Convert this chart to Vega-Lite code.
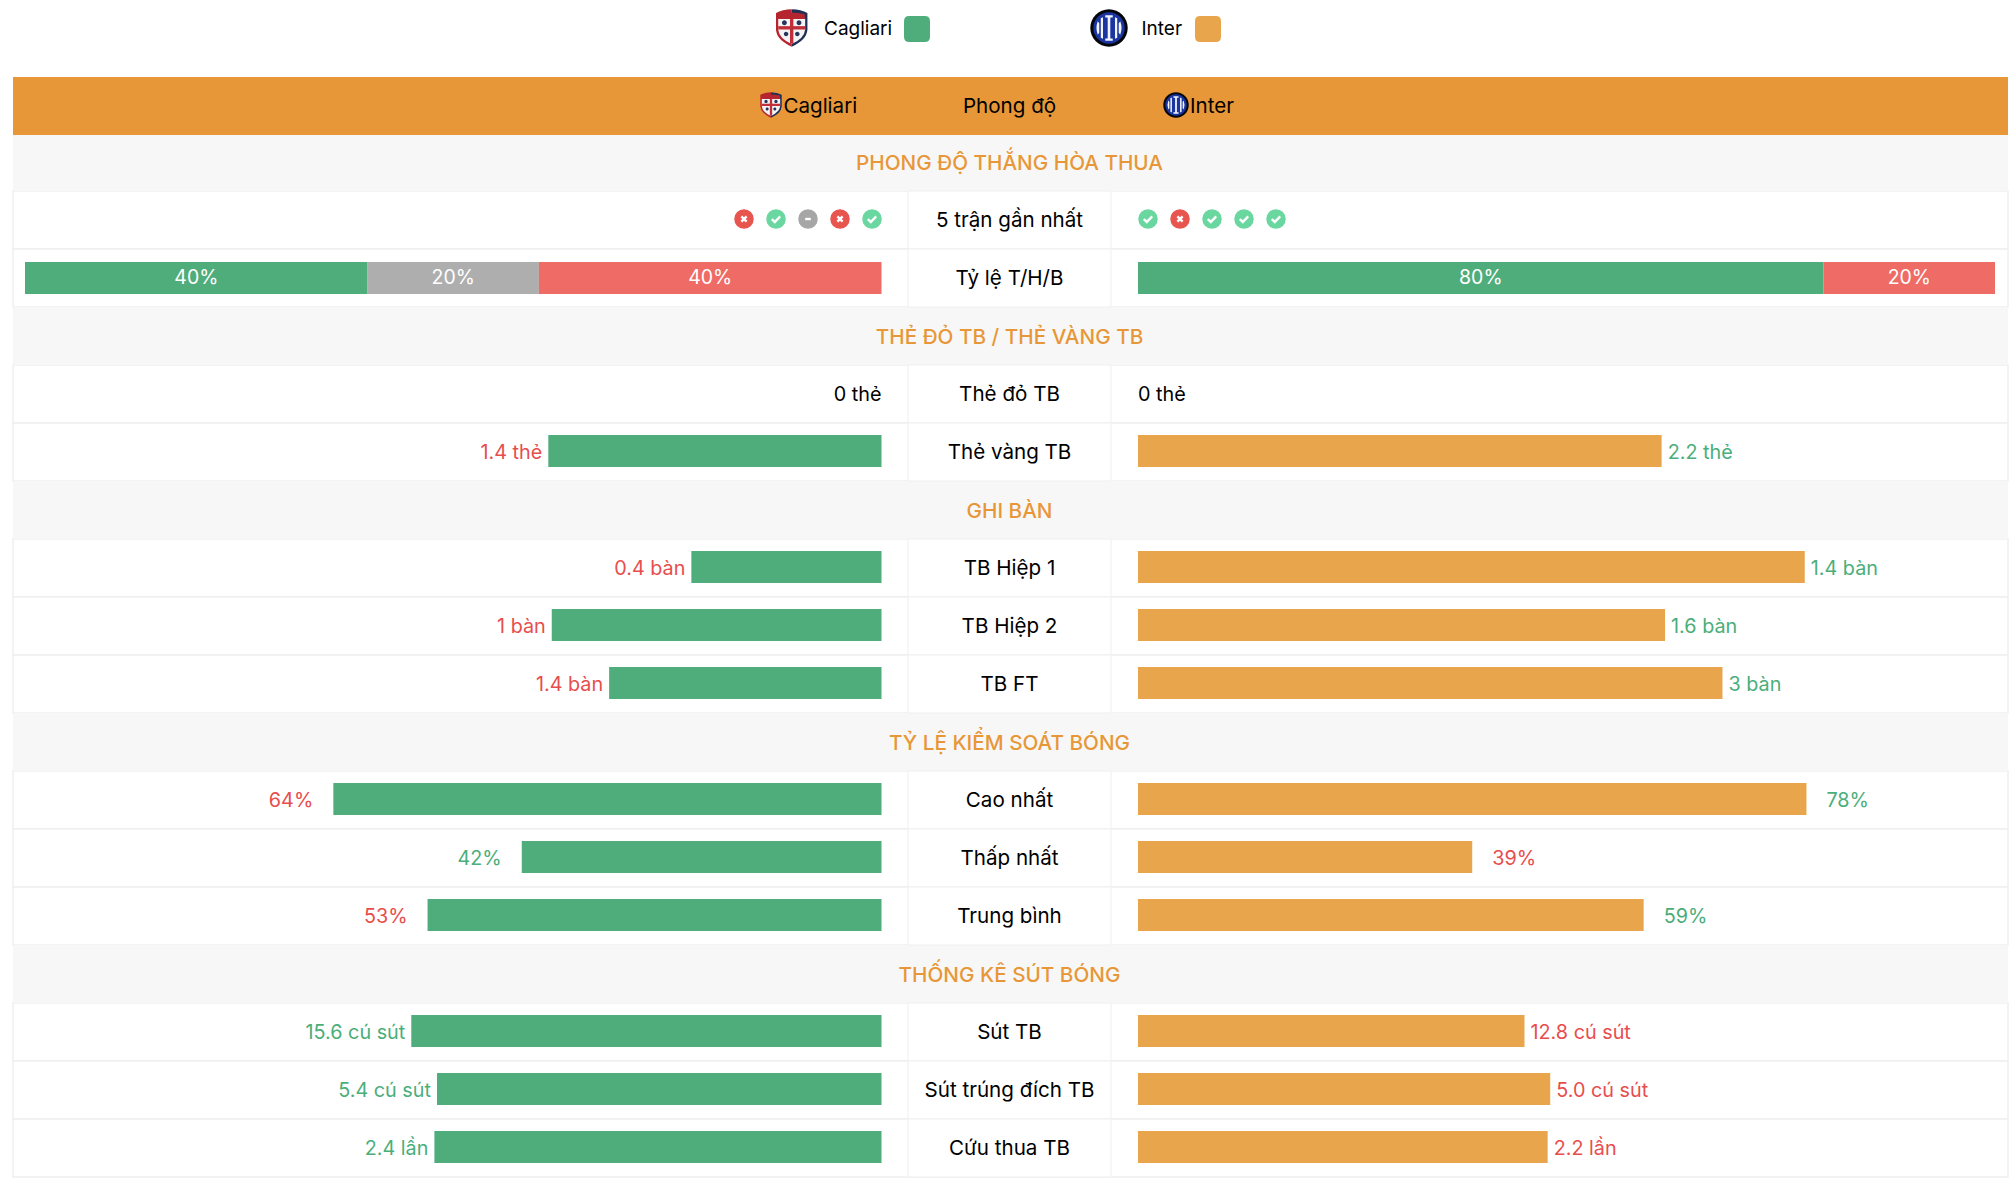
{
"$schema":"https://vega.github.io/schema/vega-lite/v6.json",
"autosize":{"type":"none"},
"padding":{"left":13,"top":0,"right":6,"bottom":4},
"width":1995,"height":1178,
"background":"white",
"config":{"view":{"stroke":null},"text":{"font":"Inter","fontSize":20,"limit":0}},
"datasets":{
"rows":[
{"row":"Phong độ","type":"header"},
{"row":"PHONG ĐỘ THẮNG HÒA THUA","type":"section"},
{"row":"5 trận gần nhất","type":"metric"},
{"row":"Tỷ lệ T/H/B","type":"metric"},
{"row":"THẺ ĐỎ TB / THẺ VÀNG TB","type":"section"},
{"row":"Thẻ đỏ TB","type":"metric"},
{"row":"Thẻ vàng TB","type":"metric"},
{"row":"GHI BÀN","type":"section"},
{"row":"TB Hiệp 1","type":"metric"},
{"row":"TB Hiệp 2","type":"metric"},
{"row":"TB FT","type":"metric"},
{"row":"TỶ LỆ KIỂM SOÁT BÓNG","type":"section"},
{"row":"Cao nhất","type":"metric"},
{"row":"Thấp nhất","type":"metric"},
{"row":"Trung bình","type":"metric"},
{"row":"THỐNG KÊ SÚT BÓNG","type":"section"},
{"row":"Sút TB","type":"metric"},
{"row":"Sút trúng đích TB","type":"metric"},
{"row":"Cứu thua TB","type":"metric"}
],
"teams":[
{"row":"legend","team":"Cagliari"},{"row":"legend","team":"Inter"},
{"row":"Phong độ","team":"Cagliari"},{"row":"Phong độ","team":"Inter"}
],
"logos":[
{"team":"Cagliari","part":"red"},{"team":"Cagliari","part":"navy"},{"team":"Cagliari","part":"white"},{"team":"Cagliari","part":"band"},{"team":"Cagliari","part":"crossV"},{"team":"Cagliari","part":"crossH"},{"team":"Cagliari","part":"dots"},
{"team":"Inter","part":"ring"},{"team":"Inter","part":"disc"},{"team":"Inter","part":"glyph"}
],
"bars":[
{"row":"Thẻ đỏ TB","team":"Cagliari","label":"0 thẻ","value":0,"pct":0,"cmp":"none"},
{"row":"Thẻ đỏ TB","team":"Inter","label":"0 thẻ","value":0,"pct":0,"cmp":"none"},
{"row":"Thẻ vàng TB","team":"Cagliari","label":"1.4 thẻ","value":1.4,"pct":38.9,"cmp":"lower"},
{"row":"Thẻ vàng TB","team":"Inter","label":"2.2 thẻ","value":2.2,"pct":61.1,"cmp":"higher"},
{"row":"TB Hiệp 1","team":"Cagliari","label":"0.4 bàn","value":0.4,"pct":22.2,"cmp":"lower"},
{"row":"TB Hiệp 1","team":"Inter","label":"1.4 bàn","value":1.4,"pct":77.8,"cmp":"higher"},
{"row":"TB Hiệp 2","team":"Cagliari","label":"1 bàn","value":1,"pct":38.5,"cmp":"lower"},
{"row":"TB Hiệp 2","team":"Inter","label":"1.6 bàn","value":1.6,"pct":61.5,"cmp":"higher"},
{"row":"TB FT","team":"Cagliari","label":"1.4 bàn","value":1.4,"pct":31.8,"cmp":"lower"},
{"row":"TB FT","team":"Inter","label":"3 bàn","value":3,"pct":68.2,"cmp":"higher"},
{"row":"Cao nhất","team":"Cagliari","label":"64%","value":64,"pct":64,"cmp":"lower"},
{"row":"Cao nhất","team":"Inter","label":"78%","value":78,"pct":78,"cmp":"higher"},
{"row":"Thấp nhất","team":"Cagliari","label":"42%","value":42,"pct":42,"cmp":"higher"},
{"row":"Thấp nhất","team":"Inter","label":"39%","value":39,"pct":39,"cmp":"lower"},
{"row":"Trung bình","team":"Cagliari","label":"53%","value":53,"pct":53,"cmp":"lower"},
{"row":"Trung bình","team":"Inter","label":"59%","value":59,"pct":59,"cmp":"higher"},
{"row":"Sút TB","team":"Cagliari","label":"15.6 cú sút","value":15.6,"pct":54.9,"cmp":"higher"},
{"row":"Sút TB","team":"Inter","label":"12.8 cú sút","value":12.8,"pct":45.1,"cmp":"lower"},
{"row":"Sút trúng đích TB","team":"Cagliari","label":"5.4 cú sút","value":5.4,"pct":51.9,"cmp":"higher"},
{"row":"Sút trúng đích TB","team":"Inter","label":"5.0 cú sút","value":5,"pct":48.1,"cmp":"lower"},
{"row":"Cứu thua TB","team":"Cagliari","label":"2.4 lần","value":2.4,"pct":52.2,"cmp":"higher"},
{"row":"Cứu thua TB","team":"Inter","label":"2.2 lần","value":2.2,"pct":47.8,"cmp":"lower"}
],
"rate":[
{"row":"Tỷ lệ T/H/B","team":"Cagliari","result":"T","seq":1,"pct":40,"label":"40%"},
{"row":"Tỷ lệ T/H/B","team":"Cagliari","result":"H","seq":2,"pct":20,"label":"20%"},
{"row":"Tỷ lệ T/H/B","team":"Cagliari","result":"B","seq":3,"pct":40,"label":"40%"},
{"row":"Tỷ lệ T/H/B","team":"Inter","result":"T","seq":1,"pct":80,"label":"80%"},
{"row":"Tỷ lệ T/H/B","team":"Inter","result":"B","seq":3,"pct":20,"label":"20%"}
],
"form":[
{"row":"5 trận gần nhất","team":"Cagliari","match":1,"result":"B"},
{"row":"5 trận gần nhất","team":"Cagliari","match":2,"result":"T"},
{"row":"5 trận gần nhất","team":"Cagliari","match":3,"result":"H"},
{"row":"5 trận gần nhất","team":"Cagliari","match":4,"result":"B"},
{"row":"5 trận gần nhất","team":"Cagliari","match":5,"result":"T"},
{"row":"5 trận gần nhất","team":"Inter","match":1,"result":"T"},
{"row":"5 trận gần nhất","team":"Inter","match":2,"result":"B"},
{"row":"5 trận gần nhất","team":"Inter","match":3,"result":"T"},
{"row":"5 trận gần nhất","team":"Inter","match":4,"result":"T"},
{"row":"5 trận gần nhất","team":"Inter","match":5,"result":"T"}
]
},
"encoding":{"y":{"field":"row","type":"nominal","axis":null,"scale":{"type":"band","paddingInner":0,"paddingOuter":0,"range":[17,1177],"domain":["legend","Phong độ","PHONG ĐỘ THẮNG HÒA THUA","5 trận gần nhất","Tỷ lệ T/H/B","THẺ ĐỎ TB / THẺ VÀNG TB","Thẻ đỏ TB","Thẻ vàng TB","GHI BÀN","TB Hiệp 1","TB Hiệp 2","TB FT","TỶ LỆ KIỂM SOÁT BÓNG","Cao nhất","Thấp nhất","Trung bình","THỐNG KÊ SÚT BÓNG","Sút TB","Sút trúng đích TB","Cứu thua TB"]}}},
"resolve":{"scale":{"x":"independent","color":"independent","shape":"independent"}},
"layer":[
{"data":{"name":"rows"},"transform":[{"filter":"datum.type==='metric'"}],"mark":{"type":"rect","fill":"white","stroke":"#efefef","strokeWidth":1.5}},
{"data":{"name":"rows"},"transform":[{"filter":"datum.type==='section'"}],"mark":{"type":"rect","fill":"#f7f7f7"}},
{"data":{"name":"rows"},"transform":[{"filter":"datum.type==='header'"}],"mark":{"type":"rect","fill":"#e79737","yOffset":2,"y2Offset":1}},
{"data":{"name":"rows"},"transform":[{"filter":"datum.type==='metric'"}],"mark":{"type":"rect","fill":"white","stroke":"#efefef","strokeWidth":1},"encoding":{"x":{"datum":0,"type":"quantitative","axis":null,"scale":{"domain":[0,1],"range":[895,1098]}},"x2":{"datum":1}}},
{"data":{"name":"rows"},"transform":[{"filter":"datum.type==='metric'"}],"mark":{"type":"text","color":"#000000","fontSize":20.6,"yOffset":1},"encoding":{"text":{"field":"row"},"x":{"datum":0.5,"type":"quantitative","axis":null,"scale":{"domain":[0,1],"range":[895,1098]}}}},
{"data":{"name":"rows"},"transform":[{"filter":"datum.type==='header'"}],"mark":{"type":"text","color":"#000000","fontSize":20.6,"yOffset":3},"encoding":{"text":{"field":"row"},"x":{"datum":0.5,"type":"quantitative","axis":null,"scale":{"domain":[0,1],"range":[895,1098]}}}},
{"data":{"name":"rows"},"transform":[{"filter":"datum.type==='section'"}],"mark":{"type":"text","color":"#e79737","fontSize":20.7,"fontWeight":500,"yOffset":2},"encoding":{"text":{"field":"row"},"x":{"datum":0.5,"type":"quantitative","axis":null,"scale":{"domain":[0,1],"range":[895,1098]}}}},

{"data":{"name":"teams"},"transform":[{"filter":"datum.row==='legend'"}],"mark":{"type":"text","align":"left","yOffset":-17,"fontSize":19,"color":"#000000"},"encoding":{"text":{"field":"team"},"x":{"field":"team","type":"nominal","axis":null,"scale":{"type":"point","padding":0,"domain":["Cagliari","Inter"],"range":[811,1128.5]}}}},
{"data":{"name":"teams"},"transform":[{"filter":"datum.row==='Phong độ'"}],"mark":{"type":"text","align":"left","fontSize":20.6,"color":"#000000","yOffset":3},"encoding":{"text":{"field":"team"},"x":{"field":"team","type":"nominal","axis":null,"scale":{"type":"point","padding":0,"domain":["Cagliari","Inter"],"range":[770.4,1177]}}}},
{"data":{"name":"teams"},"transform":[{"filter":"datum.row==='legend'"}],"mark":{"type":"point","filled":true,"opacity":1,"size":676,"yOffset":-17,"shape":"M-0.6,-1H0.6Q1,-1 1,-0.6V0.6Q1,1 0.6,1H-0.6Q-1,1 -1,0.6V-0.6Q-1,-1 -0.6,-1Z"},"encoding":{"x":{"field":"team","type":"nominal","axis":null,"scale":{"type":"point","padding":0,"domain":["Cagliari","Inter"],"range":[904,1195]}},"color":{"field":"team","type":"nominal","legend":null,"scale":{"domain":["Cagliari","Inter"],"range":["#4fad7b","#e8a54b"]}}}},

{"data":{"name":"logos"},"transform":[{"calculate":"'legend'","as":"row"}],"mark":{"type":"point","filled":true,"opacity":1,"size":1400,"yOffset":-18},"encoding":{
"x":{"field":"team","type":"nominal","axis":null,"scale":{"type":"point","padding":0,"domain":["Cagliari","Inter"],"range":[778.7,1096]}},
"shape":{"field":"part","type":"nominal","legend":null,"scale":{"domain":["red","navy","white","band","crossV","crossH","dots","ring","disc","glyph"],"range":[
"M0,-1Q-0.5,-0.98 -0.84,-0.8V0.1Q-0.8,0.65 0,1Z",
"M0,-1Q0.5,-0.98 0.84,-0.8V0.1Q0.8,0.65 0,1Z",
"M-0.72,-0.5H0.72V0.08Q0.68,0.55 0,0.86Q-0.68,0.55 -0.72,0.08Z",
"M-0.7,-0.74Q0,-0.92 0.7,-0.74V-0.48H-0.7Z",
"M-0.09,-0.48H0.09V0.84H-0.09Z",
"M-0.72,-0.1H0.72V0.08H-0.72Z",
"M-0.52,-0.28a0.13,0.13 0 1,0 0.26,0a0.13,0.13 0 1,0 -0.26,0M0.26,-0.28a0.13,0.13 0 1,0 0.26,0a0.13,0.13 0 1,0 -0.26,0M-0.42,0.32a0.12,0.12 0 1,0 0.24,0a0.12,0.12 0 1,0 -0.24,0M0.18,0.32a0.12,0.12 0 1,0 0.24,0a0.12,0.12 0 1,0 -0.24,0",
"M-1,0a1,1 0 1,0 2,0a1,1 0 1,0 -2,0Z",
"M-0.84,0a0.84,0.84 0 1,0 1.68,0a0.84,0.84 0 1,0 -1.68,0Z",
"M-0.2,-0.68H0.2V-0.56H0.07V0.56H0.2V0.68H-0.2V0.56H-0.07V-0.56H-0.2ZM-0.44,-0.52L-0.32,-0.58V0.58L-0.44,0.52ZM0.32,-0.58L0.44,-0.52V0.52L0.32,0.58ZM-0.6,-0.36Q-0.74,0 -0.6,0.36L-0.52,0.26V-0.26ZM0.6,-0.36Q0.74,0 0.6,0.36L0.52,0.26V-0.26Z"
]}},
"color":{"field":"part","type":"nominal","legend":null,"scale":{"domain":["red","navy","white","band","crossV","crossH","dots","ring","disc","glyph"],"range":["#b5252f","#1f2f55","#f4f4f4","#b5252f","#c0303a","#c0303a","#26365c","#05060a","#1a34a0","#f2f4fa"]}}}},
{"data":{"name":"logos"},"transform":[{"calculate":"'Phong độ'","as":"row"}],"mark":{"type":"point","filled":true,"opacity":1,"size":650,"yOffset":1},"encoding":{
"x":{"field":"team","type":"nominal","axis":null,"scale":{"type":"point","padding":0,"domain":["Cagliari","Inter"],"range":[758,1163]}},
"shape":{"field":"part","type":"nominal","legend":null,"scale":{"domain":["red","navy","white","band","crossV","crossH","dots","ring","disc","glyph"],"range":[
"M0,-1Q-0.5,-0.98 -0.84,-0.8V0.1Q-0.8,0.65 0,1Z",
"M0,-1Q0.5,-0.98 0.84,-0.8V0.1Q0.8,0.65 0,1Z",
"M-0.72,-0.5H0.72V0.08Q0.68,0.55 0,0.86Q-0.68,0.55 -0.72,0.08Z",
"M-0.7,-0.74Q0,-0.92 0.7,-0.74V-0.48H-0.7Z",
"M-0.09,-0.48H0.09V0.84H-0.09Z",
"M-0.72,-0.1H0.72V0.08H-0.72Z",
"M-0.52,-0.28a0.13,0.13 0 1,0 0.26,0a0.13,0.13 0 1,0 -0.26,0M0.26,-0.28a0.13,0.13 0 1,0 0.26,0a0.13,0.13 0 1,0 -0.26,0M-0.42,0.32a0.12,0.12 0 1,0 0.24,0a0.12,0.12 0 1,0 -0.24,0M0.18,0.32a0.12,0.12 0 1,0 0.24,0a0.12,0.12 0 1,0 -0.24,0",
"M-1,0a1,1 0 1,0 2,0a1,1 0 1,0 -2,0Z",
"M-0.84,0a0.84,0.84 0 1,0 1.68,0a0.84,0.84 0 1,0 -1.68,0Z",
"M-0.2,-0.68H0.2V-0.56H0.07V0.56H0.2V0.68H-0.2V0.56H-0.07V-0.56H-0.2ZM-0.44,-0.52L-0.32,-0.58V0.58L-0.44,0.52ZM0.32,-0.58L0.44,-0.52V0.52L0.32,0.58ZM-0.6,-0.36Q-0.74,0 -0.6,0.36L-0.52,0.26V-0.26ZM0.6,-0.36Q0.74,0 0.6,0.36L0.52,0.26V-0.26Z"
]}},
"color":{"field":"part","type":"nominal","legend":null,"scale":{"domain":["red","navy","white","band","crossV","crossH","dots","ring","disc","glyph"],"range":["#b5252f","#1f2f55","#f4f4f4","#b5252f","#c0303a","#c0303a","#26365c","#05060a","#1a34a0","#f2f4fa"]}}}},

{"data":{"name":"form"},"transform":[{"filter":"datum.team==='Cagliari'"}],"mark":{"type":"point","filled":true,"opacity":1,"shape":"circle","size":380,"yOffset":-1},"encoding":{"x":{"field":"match","type":"quantitative","axis":null,"scale":{"domain":[1,5],"range":[731,859]}},"color":{"field":"result","type":"nominal","legend":null,"scale":{"domain":["T","H","B"],"range":["#69d79f","#a6a6a6","#e8554f"]}}}},
{"data":{"name":"form"},"transform":[{"filter":"datum.team==='Cagliari'"}],"mark":{"type":"point","filled":false,"opacity":1,"size":400,"stroke":"white","strokeWidth":2.4,"yOffset":-1},"encoding":{"x":{"field":"match","type":"quantitative","axis":null,"scale":{"domain":[1,5],"range":[731,859]}},"shape":{"field":"result","type":"nominal","legend":null,"scale":{"domain":["T","H","B"],"range":["M-0.42,0.02L-0.12,0.3L0.42,-0.26","M-0.28,0L0.28,0","M-0.26,-0.26L0.26,0.26M0.26,-0.26L-0.26,0.26"]}}}},
{"data":{"name":"form"},"transform":[{"filter":"datum.team==='Inter'"}],"mark":{"type":"point","filled":true,"opacity":1,"shape":"circle","size":380,"yOffset":-1},"encoding":{"x":{"field":"match","type":"quantitative","axis":null,"scale":{"domain":[1,5],"range":[1135,1263]}},"color":{"field":"result","type":"nominal","legend":null,"scale":{"domain":["T","H","B"],"range":["#69d79f","#a6a6a6","#e8554f"]}}}},
{"data":{"name":"form"},"transform":[{"filter":"datum.team==='Inter'"}],"mark":{"type":"point","filled":false,"opacity":1,"size":400,"stroke":"white","strokeWidth":2.4,"yOffset":-1},"encoding":{"x":{"field":"match","type":"quantitative","axis":null,"scale":{"domain":[1,5],"range":[1135,1263]}},"shape":{"field":"result","type":"nominal","legend":null,"scale":{"domain":["T","H","B"],"range":["M-0.42,0.02L-0.12,0.3L0.42,-0.26","M-0.28,0L0.28,0","M-0.26,-0.26L0.26,0.26M0.26,-0.26L-0.26,0.26"]}}}},

{"data":{"name":"rate"},"transform":[{"filter":"datum.team==='Cagliari'"}],"mark":{"type":"bar","height":32},"encoding":{"x":{"field":"pct","type":"quantitative","axis":null,"stack":"zero","scale":{"domain":[0,100],"range":[12,868.5]}},"order":{"field":"seq"},"color":{"field":"result","type":"nominal","legend":null,"scale":{"domain":["T","H","B"],"range":["#4fad7b","#aeaeae","#ef6b66"]}}}},
{"data":{"name":"rate"},"transform":[{"filter":"datum.team==='Cagliari'"}],"mark":{"type":"text","color":"white","fontSize":19.5},"encoding":{"x":{"field":"pct","type":"quantitative","axis":null,"stack":"zero","bandPosition":0.5,"scale":{"domain":[0,100],"range":[12,868.5]}},"order":{"field":"seq"},"detail":{"field":"result"},"text":{"field":"label"}}},
{"data":{"name":"rate"},"transform":[{"filter":"datum.team==='Inter'"}],"mark":{"type":"bar","height":32},"encoding":{"x":{"field":"pct","type":"quantitative","axis":null,"stack":"zero","scale":{"domain":[0,100],"range":[1125,1982]}},"order":{"field":"seq"},"color":{"field":"result","type":"nominal","legend":null,"scale":{"domain":["T","H","B"],"range":["#4fad7b","#aeaeae","#ef6b66"]}}}},
{"data":{"name":"rate"},"transform":[{"filter":"datum.team==='Inter'"}],"mark":{"type":"text","color":"white","fontSize":19.5},"encoding":{"x":{"field":"pct","type":"quantitative","axis":null,"stack":"zero","bandPosition":0.5,"scale":{"domain":[0,100],"range":[1125,1982]}},"order":{"field":"seq"},"detail":{"field":"result"},"text":{"field":"label"}}},

{"data":{"name":"bars"},"transform":[{"filter":"datum.team==='Cagliari' && datum.pct>0"}],"mark":{"type":"bar","height":32,"color":"#4fad7b","yOffset":-1},"encoding":{"x":{"field":"pct","type":"quantitative","axis":null,"scale":{"domain":[0,100],"range":[868.5,12]}}}},
{"data":{"name":"bars"},"transform":[{"filter":"datum.team==='Inter' && datum.pct>0"}],"mark":{"type":"bar","height":32,"color":"#e8a54b","yOffset":-1},"encoding":{"x":{"field":"pct","type":"quantitative","axis":null,"scale":{"domain":[0,100],"range":[1125,1982]}}}},

{"data":{"name":"bars"},"transform":[{"filter":"datum.team==='Cagliari' && datum.pct===0"}],"mark":{"type":"text","align":"right","fontSize":19.8,"yOffset":1},"encoding":{"text":{"field":"label"},"x":{"field":"pct","type":"quantitative","axis":null,"scale":{"domain":[0,100],"range":[868.5,12]}},"color":{"field":"cmp","type":"nominal","legend":null,"scale":{"domain":["higher","lower","none"],"range":["#4aae7a","#e84d4d","#000000"]}}}},
{"data":{"name":"bars"},"transform":[{"filter":"datum.team==='Cagliari' && datum.pct>0 && indexof(datum.label,'%')<0"}],"mark":{"type":"text","align":"right","dx":-6,"fontSize":19.8,"yOffset":1},"encoding":{"text":{"field":"label"},"x":{"field":"pct","type":"quantitative","axis":null,"scale":{"domain":[0,100],"range":[868.5,12]}},"color":{"field":"cmp","type":"nominal","legend":null,"scale":{"domain":["higher","lower","none"],"range":["#4aae7a","#e84d4d","#000000"]}}}},
{"data":{"name":"bars"},"transform":[{"filter":"datum.team==='Cagliari' && indexof(datum.label,'%')>=0"}],"mark":{"type":"text","align":"right","dx":-20,"fontSize":19.8,"yOffset":1},"encoding":{"text":{"field":"label"},"x":{"field":"pct","type":"quantitative","axis":null,"scale":{"domain":[0,100],"range":[868.5,12]}},"color":{"field":"cmp","type":"nominal","legend":null,"scale":{"domain":["higher","lower","none"],"range":["#4aae7a","#e84d4d","#000000"]}}}},
{"data":{"name":"bars"},"transform":[{"filter":"datum.team==='Inter' && datum.pct===0"}],"mark":{"type":"text","align":"left","fontSize":19.8,"yOffset":1},"encoding":{"text":{"field":"label"},"x":{"field":"pct","type":"quantitative","axis":null,"scale":{"domain":[0,100],"range":[1125,1982]}},"color":{"field":"cmp","type":"nominal","legend":null,"scale":{"domain":["higher","lower","none"],"range":["#4aae7a","#e84d4d","#000000"]}}}},
{"data":{"name":"bars"},"transform":[{"filter":"datum.team==='Inter' && datum.pct>0 && indexof(datum.label,'%')<0"}],"mark":{"type":"text","align":"left","dx":6,"fontSize":19.8,"yOffset":1},"encoding":{"text":{"field":"label"},"x":{"field":"pct","type":"quantitative","axis":null,"scale":{"domain":[0,100],"range":[1125,1982]}},"color":{"field":"cmp","type":"nominal","legend":null,"scale":{"domain":["higher","lower","none"],"range":["#4aae7a","#e84d4d","#000000"]}}}},
{"data":{"name":"bars"},"transform":[{"filter":"datum.team==='Inter' && indexof(datum.label,'%')>=0"}],"mark":{"type":"text","align":"left","dx":20,"fontSize":19.8,"yOffset":1},"encoding":{"text":{"field":"label"},"x":{"field":"pct","type":"quantitative","axis":null,"scale":{"domain":[0,100],"range":[1125,1982]}},"color":{"field":"cmp","type":"nominal","legend":null,"scale":{"domain":["higher","lower","none"],"range":["#4aae7a","#e84d4d","#000000"]}}}}
]
}
